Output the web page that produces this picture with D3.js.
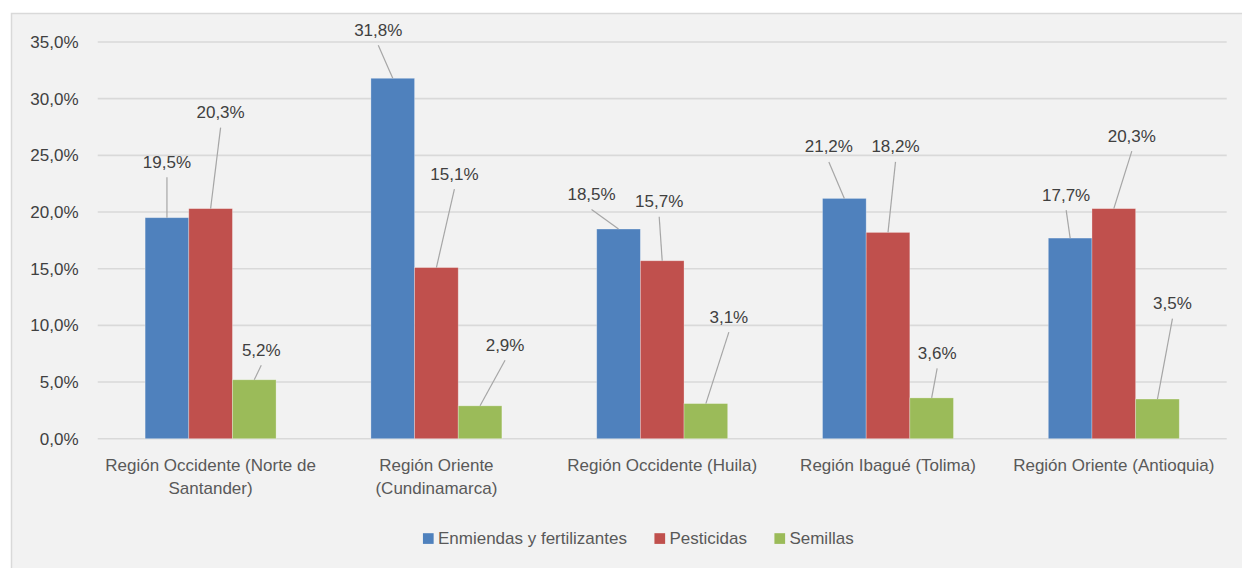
<!DOCTYPE html>
<html>
<head>
<meta charset="utf-8">
<script src="https://cdn.jsdelivr.net/npm/d3@7"></script>
<style>
  html, body { margin: 0; padding: 0; background: #ffffff; }
  svg { display: block; font-family: "Liberation Sans", Arial, sans-serif; }
</style>
</head>
<body>
<svg id="chart" width="1242" height="568"></svg>
<script>
// Regions (with explicit line breaks for the axis labels)
const categories = [
  "Región Occidente (Norte de\nSantander)",
  "Región Oriente\n(Cundinamarca)",
  "Región Occidente (Huila)",
  "Región Ibagué (Tolima)",
  "Región Oriente (Antioquia)"
];
const seriesNames = ["Enmiendas y fertilizantes", "Pesticidas", "Semillas"];
// Percentage values per region
const enmiendas  = [19.5, 31.8, 18.5, 21.2, 17.7];
const pesticidas = [20.3, 15.1, 15.7, 18.2, 20.3];
const semillas   = [5.2, 2.9, 3.1, 3.6, 3.5];
const yTicks = [0, 5, 10, 15, 20, 25, 30, 35];

// Layout: data label placement (dx from bar centre, dy from bar top), per series
const labelOffsets = [
  [[0, -56], [-14.5, -48.5], [-27, -35], [-15.5, -52], [-4, -43.5]],
  [[10, -96.5], [18, -94], [-3, -59.5], [7.5, -86], [18, -73]],
  [[7, -30], [25, -61], [23, -87], [5.5, -45], [15, -96]]
];
const colors = ["#4f81bd", "#c0504d", "#9bbb59"];

const seriesValues = [enmiendas, pesticidas, semillas];
const rows = categories.map((c, i) => ({
  category: c,
  values: seriesNames.map((s, k) => ({ series: s, k, i, value: seriesValues[k][i] }))
}));

const locale = d3.formatLocale({ decimal: ",", thousands: ".", grouping: [3], currency: ["", ""] });
const fmt = locale.format(".1f");
const pct = v => fmt(v) + "%";

const svg = d3.select("#chart");

// Panel background and border
svg.append("rect")
  .attr("x", 11.5).attr("y", 13.5)
  .attr("width", 1242).attr("height", 568)
  .attr("fill", "#f2f2f2")
  .attr("stroke", "#d9d9d9").attr("stroke-width", 1.5);

const plot = { left: 97.7, right: 1226.7, top: 42, bottom: 438.7 };

const y = d3.scaleLinear().domain([0, 35]).range([plot.bottom, plot.top]);
const x0 = d3.scaleBand().domain(categories).range([plot.left, plot.right])
  .paddingInner(0.42).paddingOuter(0.21);
const x1 = d3.scaleBand().domain(seriesNames).range([0, x0.bandwidth()]).padding(0);

// Gridlines
svg.append("g").selectAll("line").data(yTicks).join("line")
  .attr("x1", plot.left).attr("x2", plot.right)
  .attr("y1", d => y(d)).attr("y2", d => y(d))
  .attr("stroke", "#d9d9d9").attr("stroke-width", 1.6);

// Y axis tick labels
const yAxis = d3.axisLeft(y).tickValues(yTicks).tickSize(0).tickPadding(0).tickFormat(pct);
svg.append("g")
  .attr("transform", `translate(${78.5},0)`)
  .call(yAxis)
  .call(g => g.select(".domain").remove())
  .call(g => g.selectAll("text")
    .attr("font-family", "'Liberation Sans', Arial, sans-serif")
    .attr("font-size", 17).attr("fill", "#404040"));

// Bars
const groups = svg.append("g").selectAll("g").data(rows).join("g")
  .attr("transform", d => `translate(${x0(d.category)},0)`);

groups.selectAll("rect").data(d => d.values).join("rect")
  .attr("x", d => x1(d.series))
  .attr("y", d => y(d.value))
  .attr("width", x1.bandwidth())
  .attr("height", d => y(0) - y(d.value))
  .attr("fill", d => colors[d.k])
  .attr("stroke", "#ffffff").attr("stroke-opacity", 0.35).attr("stroke-width", 0.8);

// Leader lines and data labels
const labels = svg.append("g");
rows.forEach(row => {
  row.values.forEach(d => {
    const cx = x0(row.category) + x1(d.series) + x1.bandwidth() / 2;
    const top = y(d.value);
    const [dx, dy] = labelOffsets[d.k][d.i];
    const lx = cx + dx, ly = top + dy;
    labels.append("line")
      .attr("x1", lx).attr("y1", ly + 15.5)
      .attr("x2", cx).attr("y2", top)
      .attr("stroke", "#a6a6a6").attr("stroke-width", 1.2);
    labels.append("text")
      .attr("x", lx).attr("y", ly)
      .attr("dy", "0.35em")
      .attr("text-anchor", "middle")
      .attr("font-size", 17).attr("fill", "#404040")
      .text(pct(d.value));
  });
});

// Category labels
const xl = svg.append("g");
categories.forEach(c => {
  const lines = c.split("\n");
  const t = xl.append("text")
    .attr("x", x0(c) + x0.bandwidth() / 2)
    .attr("y", 471)
    .attr("text-anchor", "middle")
    .attr("font-size", 17).attr("fill", "#595959");
  lines.forEach((ln, j) => {
    t.append("tspan").attr("x", x0(c) + x0.bandwidth() / 2)
      .attr("y", 471 + j * 23).text(ln);
  });
});

// Legend
const legend = svg.append("g");
let lxPos = 0;
const items = seriesNames.map((s, k) => {
  const g = legend.append("g");
  g.append("rect").attr("x", 0).attr("y", -5.3).attr("width", 10.7).attr("height", 10.7)
    .attr("fill", colors[k]);
  const t = g.append("text").attr("x", 15).attr("y", 0).attr("dy", "0.35em")
    .attr("font-size", 17).attr("fill", "#595959").text(s);
  const w = 15 + t.node().getComputedTextLength();
  g.attr("transform", `translate(${lxPos},0)`);
  lxPos += w + 27.5;
  return g;
});
const legendWidth = lxPos - 27.5;
legend.attr("transform", `translate(${638.3 - legendWidth / 2},538.5)`);
</script>
</body>
</html>
